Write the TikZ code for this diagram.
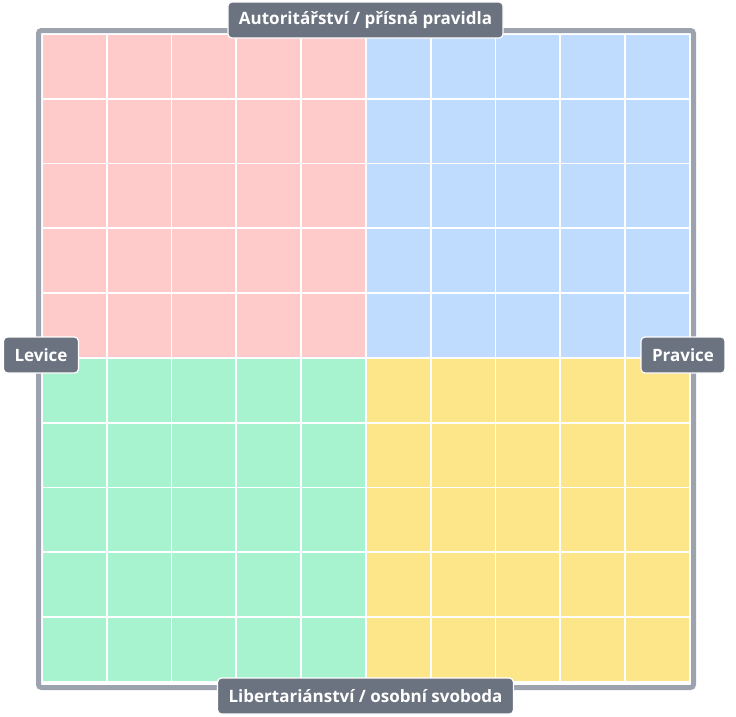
\documentclass[tikz,border=0pt]{standalone}
\usepackage{fontspec}
\setmainfont{Open Sans}
\usetikzlibrary{positioning}
\definecolor{authred}{HTML}{FECACA}
\definecolor{rightblue}{HTML}{BFDBFE}
\definecolor{leftgreen}{HTML}{A7F3D0}
\definecolor{libyellow}{HTML}{FDE68A}
\definecolor{framegray}{HTML}{9CA3AF}
\definecolor{labelgray}{HTML}{6B7280}

\begin{document}
\begin{tikzpicture}[x=1pt,y=-1pt,
  cell/.style={minimum size=63pt,inner sep=0pt,anchor=north west},
  axislabel/.style={fill=labelgray,draw=white,line width=1.2pt,rounded corners=4pt,
    text=white,font=\bfseries\fontsize{17}{19}\selectfont,
    inner xsep=11pt,minimum height=36pt}]

\useasboundingbox (0,0) rectangle (736,716);

% frame
\draw[framegray,line width=5pt,rounded corners=3pt,fill=white] (38.5,30.5) rectangle (693.5,687.5);

% grid of cells, one colour per quadrant
\foreach \i in {0,...,9}
  \foreach \j in {0,...,9} {
    \ifnum\i<5
      \ifnum\j<5 \def\col{authred}\else \def\col{leftgreen}\fi
    \else
      \ifnum\j<5 \def\col{rightblue}\else \def\col{libyellow}\fi
    \fi
    \node[cell,fill=\col] (c-\i-\j) at (42.5+64.8*\i,34.5+64.8*\j) {};
  }

% axis labels
\node[axislabel] (autlabel) at (365.5,20) {Autoritářství / přísná pravidla};
\node[axislabel] (liblabel) at (365.5,696) {Libertariánství / osobní svoboda};
\node[axislabel] (levlabel) at (41,355) {Levice};
\node[axislabel] (pravlabel) at (683,355) {Pravice};

\end{tikzpicture}
\end{document}
